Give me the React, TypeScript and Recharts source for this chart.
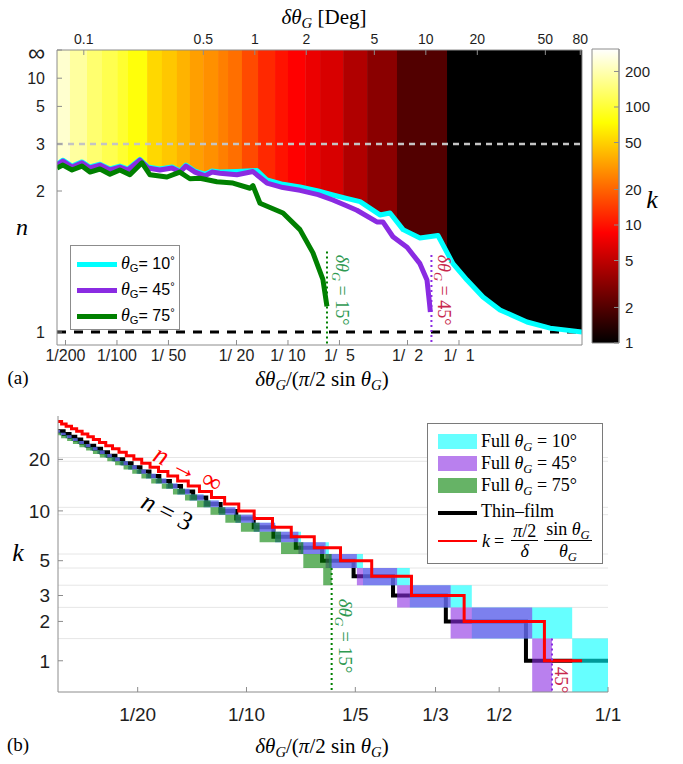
import React from 'react';
import { ComposedChart, Line, Area, XAxis, YAxis, ReferenceArea, ReferenceLine } from 'recharts';

// ---------------- panel (a) ----------------
// x: dtheta_G / (pi/2 sin theta_G)  (log),  y: 1/n  (linear, reversed)
const U_MIN_A = 0.00446;
const U_MAX_A = 5.24;
const V_MAX_A = 1.046;
const K_MAX = 310;

// colour bands of k (start of each band along x)
const bandStartU = [0.00446, 0.00531, 0.00668, 0.00817, 0.0101, 0.0116, 0.015, 0.0183, 0.0224, 0.0267, 0.0319, 0.039, 0.0446, 0.0538, 0.0668, 0.084, 0.1, 0.126, 0.154, 0.21, 0.29, 0.434, 0.851];
const bandK = [237, 181, 138, 115, 97, 78, 53, 46, 39, 33, 29, 25, 22, 16, 12, 10, 8.6, 7.3, 6.2, 4.4, 3.2, 2, 1];

// boundary curves n(x)
const cyanU = [0.00446, 0.00483, 0.00546, 0.00624, 0.00695, 0.00795, 0.0091, 0.0104, 0.0116, 0.0136, 0.0152, 0.0178, 0.021, 0.0234, 0.0253, 0.0286, 0.0327, 0.0359, 0.04, 0.0503, 0.0659, 0.0754, 0.0935, 0.1175, 0.15, 0.183, 0.22, 0.264, 0.345, 0.395, 0.471, 0.591, 0.7535, 0.922, 1.114, 1.381, 1.737, 2.5, 3.41, 5.24];
const cyanN = [2.47, 2.56, 2.43, 2.52, 2.41, 2.47, 2.37, 2.43, 2.37, 2.58, 2.41, 2.37, 2.41, 2.33, 2.45, 2.33, 2.27, 2.33, 2.31, 2.32, 2.34, 2.17, 2.1, 2.06, 2.0, 1.945, 1.9, 1.86, 1.71, 1.73, 1.57, 1.5, 1.52, 1.32, 1.226, 1.142, 1.085, 1.037, 1.014, 1.0];
const purpleU = [0.00446, 0.00483, 0.00546, 0.00624, 0.00695, 0.00795, 0.0091, 0.0104, 0.0116, 0.0136, 0.0152, 0.0178, 0.021, 0.0234, 0.0253, 0.0286, 0.0327, 0.0359, 0.04, 0.0503, 0.0624, 0.0754, 0.0935, 0.1175, 0.15, 0.183, 0.22, 0.253, 0.331, 0.359, 0.411, 0.497, 0.591, 0.65, 0.672, 0.68];
const purpleN = [2.45, 2.54, 2.41, 2.5, 2.39, 2.45, 2.35, 2.41, 2.35, 2.56, 2.39, 2.35, 2.39, 2.31, 2.43, 2.31, 2.24, 2.31, 2.29, 2.26, 2.32, 2.12, 2.05, 2.01, 1.95, 1.88, 1.81, 1.76, 1.64, 1.64, 1.51, 1.43, 1.32, 1.226, 1.115, 1.076];
const greenU = [0.00446, 0.00483, 0.00546, 0.00624, 0.00695, 0.00795, 0.0091, 0.0104, 0.0119, 0.014, 0.0156, 0.0196, 0.0233, 0.0267, 0.0306, 0.0384, 0.0477, 0.06, 0.0624, 0.0686, 0.0935, 0.1175, 0.14, 0.16, 0.169];
const greenN = [2.39, 2.45, 2.35, 2.43, 2.31, 2.37, 2.27, 2.35, 2.26, 2.5, 2.26, 2.22, 2.31, 2.19, 2.2, 2.14, 2.12, 2.04, 2.08, 1.84, 1.73, 1.57, 1.39, 1.23, 1.1];

const limit15U = 0.1691;
const limit15N = 1.4;
const limit45U = 0.69;
const limit45N = 1.375;

const topDeg = [0.1, 0.5, 1, 2, 5, 10, 20, 50, 80];
const DEG_PER_U = 90 * Math.sin((10 * Math.PI) / 180); // top axis drawn for theta_G = 10 deg
const bottomTicksA = [1 / 200, 1 / 100, 1 / 50, 1 / 20, 1 / 10, 1 / 5, 1 / 2, 1];
const bottomLabelsA = ['1/200', '1/100', '1/\u00a050', '1/\u00a020', '1/\u00a010', '1/\u00a0\u00a05', '1/\u00a0\u00a02', '1/\u00a0\u00a01'];
const nTicks = [Infinity, 10, 5, 3, 2, 1];
const nLabels = ['\u221e', '10', '5', '3', '2', '1'];
const cbTicks = [1, 2, 5, 10, 20, 50, 100, 200];

// ---------------- panel (b) ----------------
const U_MIN_B = 0.0301;
const U_MAX_B = 1;
const S_MIN = 1;
const S_MAX = 36;
const redU = [0.0301, 0.0308, 0.0317, 0.0328, 0.0339, 0.0351, 0.0364, 0.0377, 0.0392, 0.0408, 0.0426, 0.0444, 0.0465, 0.0488, 0.0513, 0.0541, 0.0571, 0.0606, 0.0645, 0.069, 0.0741, 0.08, 0.087, 0.0952, 0.105, 0.118, 0.133, 0.154, 0.182, 0.222, 0.286, 0.4, 0.667, 0.848];
const redK = [33, 32, 31, 30, 29, 28, 27, 26, 25, 24, 23, 22, 21, 20, 19, 18, 17, 16, 15, 14, 13, 12, 11, 10, 9, 8, 7, 6, 5, 4, 3, 2, 1, 1];
const blackU = [0.0301, 0.0312, 0.0324, 0.0336, 0.0349, 0.0363, 0.0379, 0.0396, 0.0414, 0.0434, 0.0456, 0.0481, 0.0509, 0.0539, 0.0574, 0.0614, 0.0659, 0.0712, 0.0774, 0.0848, 0.0937, 0.1047, 0.1187, 0.1369, 0.1618, 0.1978, 0.2543, 0.356, 0.593, 1.0];
const blackK = [29, 28, 27, 26, 25, 24, 23, 22, 21, 20, 19, 18, 17, 16, 15, 14, 13, 12, 11, 10, 9, 8, 7, 6, 5, 4, 3, 2, 1, 1];
const cyanCellU = [0.0301, 0.0305, 0.0316, 0.0328, 0.0341, 0.0355, 0.037, 0.0387, 0.0405, 0.0424, 0.0446, 0.047, 0.0497, 0.0527, 0.0561, 0.06, 0.0644, 0.0696, 0.0761, 0.0838, 0.0932, 0.1047, 0.12, 0.1415, 0.169, 0.21, 0.283, 0.42, 0.796, 1.0];
const cyanCellK = [29, 28, 27, 26, 25, 24, 23, 22, 21, 20, 19, 18, 17, 16, 15, 14, 13, 12, 11, 10, 9, 8, 7, 6, 5, 4, 3, 2, 1, 1];
const purpleCellU = [0.0301, 0.0305, 0.0316, 0.0328, 0.0341, 0.0355, 0.037, 0.0387, 0.0405, 0.0424, 0.0446, 0.047, 0.0497, 0.0527, 0.0561, 0.06, 0.0644, 0.0696, 0.0761, 0.0838, 0.0932, 0.1047, 0.12, 0.1392, 0.1655, 0.202, 0.261, 0.367, 0.617, 0.7];
const purpleCellK = [29, 28, 27, 26, 25, 24, 23, 22, 21, 20, 19, 18, 17, 16, 15, 14, 13, 12, 11, 10, 9, 8, 7, 6, 5, 4, 3, 2, 1, 1];
const greenCellU = [0.0301, 0.0307, 0.0319, 0.0331, 0.0345, 0.036, 0.0376, 0.0393, 0.0412, 0.0433, 0.0457, 0.0483, 0.0512, 0.0545, 0.0583, 0.0626, 0.0676, 0.073, 0.0795, 0.0874, 0.0965, 0.1087, 0.1246, 0.1436, 0.163, 0.172];
const greenCellKLo = [28, 27, 26, 25, 24, 23, 22, 21, 20, 19, 18, 17, 16, 15, 14, 13, 12, 11, 10, 9, 8, 7, 6, 5, 4, 4];
const greenCellKHi = [28, 27, 26, 25, 24, 23, 22, 21, 20, 19, 18, 17, 16, 15, 14, 13, 12, 11, 10, 9, 8, 7, 6, 5, 5, 5];
const limitB15U = 0.172;
const limitB45U = 0.7;
const bottomTicksB = [1 / 20, 1 / 10, 1 / 5, 1 / 3, 1 / 2, 1];
const bottomLabelsB = ['1/20', '1/10', '1/5', '1/3', '1/2', '1/1'];
const kTicks = [1, 2, 3, 5, 10, 20];
const kGrid = [2, 3, 4, 5, 6, 10, 11, 20, 21];

// ---------------- helpers ----------------
const SANS = '"Liberation Sans", Arial, Helvetica, sans-serif';
const SERIF = '"Liberation Serif", "Times New Roman", serif';
const AXIS = '#8c8c8c';
const TXT = '#1e1e1e';
const CYAN = '#00ffff';
const PURPLE = '#8a2be2';
const GREEN = '#008000';

const hot = (k: number) => {
  const t = Math.log10(k) / Math.log10(K_MAX);
  const cl = (x: number) => Math.max(0, Math.min(1, x));
  const r = cl(t / 0.375);
  const g = cl((t - 0.375) / 0.375);
  const b = cl((t - 0.75) / 0.25);
  return `rgb(${Math.round(r * 255)},${Math.round(g * 255)},${Math.round(b * 255)})`;
};

const labelOf = (vals: number[], labels: string[]) => (v: number) => {
  const i = vals.findIndex((x) => Math.abs(x - v) <= 1e-6 * Math.max(1e-3, Math.abs(x)));
  return i >= 0 ? labels[i] : '';
};

const curveRows = (u: number[], n: number[]) => u.map((x, i) => ({ u: x, v: 1 / n[i] }));
const stepRows = (u: number[], k: number[]) => u.map((x, i) => ({ u: x, s: k[i] + 0.5 }));
const cellRows = (u: number[], lo: number[], hi: number[]) => u.map((x, i) => ({ u: x, lo: lo[i], hi: hi[i] }));

const Sub = ({ children }: { children: React.ReactNode }) => (
  <span style={{ fontSize: '0.7em', position: 'relative', top: '0.3em' }}>{children}</span>
);
const Sup = ({ children }: { children: React.ReactNode }) => (
  <span style={{ fontSize: '0.7em', position: 'relative', top: '-0.45em' }}>{children}</span>
);
const DTheta = () => (
  <>
    <i>δθ</i>
    <Sub>
      <i>G</i>
    </Sub>
  </>
);
const XLabel = () => (
  <>
    <DTheta />/(<i>π</i>/2 sin <i>θ</i>
    <Sub>
      <i>G</i>
    </Sub>
    )
  </>
);

const abs = (left: number, top: number, extra: React.CSSProperties = {}): React.CSSProperties => ({
  position: 'absolute',
  left,
  top,
  whiteSpace: 'nowrap',
  ...extra,
});
const rotated = (cx: number, cy: number, deg: number, extra: React.CSSProperties = {}): React.CSSProperties => ({
  position: 'absolute',
  left: cx,
  top: cy,
  whiteSpace: 'nowrap',
  transform: `translate(-50%, -50%) rotate(${deg}deg)`,
  ...extra,
});

const tickA = { fontSize: 16, fill: TXT, fontFamily: SANS };
const nLabel = labelOf(nTicks.map((n) => 1 / n), nLabels);

const NTick = (props: any) => {
  const { x, y, payload } = props;
  const lab = nLabel(payload.value);
  const inf = lab === '\u221e';
  return (
    <text x={x} y={y} dy={inf ? '0.45em' : '0.35em'} textAnchor="end" fontSize={inf ? 24 : 16} fill={TXT} fontFamily={SANS}>
      {lab}
    </text>
  );
};

function PanelA() {
  const cyan = curveRows(cyanU, cyanN);
  const purple = curveRows(purpleU, purpleN);
  const green = curveRows(greenU, greenN);
  return (
    <ComposedChart width={683} height={400} margin={{ top: 22, right: 100, bottom: 27, left: 0 }}>
      <XAxis
        dataKey="u"
        type="number"
        scale="log"
        domain={[U_MIN_A, U_MAX_A]}
        allowDataOverflow
        ticks={bottomTicksA}
        interval={0}
        tickFormatter={labelOf(bottomTicksA, bottomLabelsA)}
        height={28}
        tickSize={-5}
        tickMargin={10}
        stroke={AXIS}
        tick={tickA}
      />
      <XAxis
        xAxisId="top"
        orientation="top"
        dataKey="u"
        type="number"
        scale="log"
        domain={[U_MIN_A, U_MAX_A]}
        allowDataOverflow
        ticks={topDeg.map((d) => d / DEG_PER_U)}
        interval={0}
        tickFormatter={labelOf(topDeg.map((d) => d / DEG_PER_U), topDeg.map(String))}
        height={28}
        tickSize={-5}
        tickMargin={11}
        stroke={AXIS}
        tick={{ fontSize: 14, fill: TXT, fontFamily: SANS }}
      />
      <YAxis
        type="number"
        domain={[0, V_MAX_A]}
        reversed
        allowDataOverflow
        ticks={nTicks.map((n) => 1 / n)}
        interval={0}
        width={57}
        tickSize={-5}
        tickMargin={17}
        stroke={AXIS}
        tick={<NTick />}
      />
      <YAxis
        yAxisId="right"
        orientation="right"
        type="number"
        domain={[0, V_MAX_A]}
        reversed
        allowDataOverflow
        ticks={[]}
        tick={false}
        width={1}
        stroke={AXIS}
      />
      {bandStartU.map((u0, i) => {
        const u1 = i + 1 < bandStartU.length ? bandStartU[i + 1] * 1.004 : U_MAX_A;
        const c = hot(bandK[i]);
        return (
          <Area
            key={'band' + i}
            data={[
              { u: u0, v: 0 },
              { u: u1, v: 0 },
            ]}
            dataKey="v"
            type="linear"
            baseValue={V_MAX_A}
            fill={c}
            fillOpacity={1}
            stroke="none"
            isAnimationActive={false}
            activeDot={false}
          />
        );
      })}
      <Area
        data={cyan}
        dataKey="v"
        type="linear"
        baseValue={V_MAX_A}
        fill="#ffffff"
        fillOpacity={1}
        stroke="none"
        isAnimationActive={false}
        activeDot={false}
      />
      <Line
        xAxisId="top"
        yAxisId="right"
        data={[
          { u: U_MIN_A, v: 1 / 3 },
          { u: U_MAX_A, v: 1 / 3 },
        ]}
        dataKey="v"
        stroke="#c4c4c4"
        strokeWidth={2.5}
        strokeDasharray="6 5"
        dot={false}
        isAnimationActive={false}
      />
      <Line
        data={[
          { u: U_MIN_A, v: 1 },
          { u: U_MAX_A, v: 1 },
        ]}
        dataKey="v"
        stroke="#000"
        strokeWidth={3}
        strokeDasharray="9 8"
        dot={false}
        isAnimationActive={false}
      />
      <Line
        data={[
          { u: limit15U, v: 1 / limit15N },
          { u: limit15U, v: V_MAX_A },
        ]}
        dataKey="v"
        stroke={GREEN}
        strokeWidth={2}
        strokeDasharray="2 3"
        dot={false}
        isAnimationActive={false}
      />
      <Line
        data={[
          { u: limit45U, v: 1 / limit45N },
          { u: limit45U, v: V_MAX_A },
        ]}
        dataKey="v"
        stroke={PURPLE}
        strokeWidth={2}
        strokeDasharray="2 3"
        dot={false}
        isAnimationActive={false}
      />
      <Line data={cyan} dataKey="v" type="linear" stroke={CYAN} strokeWidth={5} strokeLinejoin="round" dot={false} isAnimationActive={false} />
      <Line data={purple} dataKey="v" type="linear" stroke={PURPLE} strokeWidth={5} strokeLinejoin="round" dot={false} isAnimationActive={false} />
      <Line data={green} dataKey="v" type="linear" stroke={GREEN} strokeWidth={5} strokeLinejoin="round" dot={false} isAnimationActive={false} />
    </ComposedChart>
  );
}

function ColorBar() {
  return (
    <ComposedChart width={683} height={400} margin={{ top: 49, right: 24, bottom: 57, left: 592 }}>
      <defs>
        <linearGradient id="hotGrad" x1="0" y1="1" x2="0" y2="0">
          <stop offset="0" stopColor="#000000" />
          <stop offset="0.375" stopColor="#ff0000" />
          <stop offset="0.75" stopColor="#ffff00" />
          <stop offset="1" stopColor="#ffffff" />
        </linearGradient>
      </defs>
      <XAxis dataKey="x" type="number" domain={[0, 1]} allowDataOverflow hide />
      <YAxis
        orientation="right"
        type="number"
        scale="log"
        domain={[1, K_MAX]}
        allowDataOverflow
        ticks={cbTicks}
        interval={0}
        width={40}
        tickSize={-5}
        tickMargin={11}
        stroke={AXIS}
        tick={{ fontSize: 15, fill: TXT, fontFamily: SANS }}
      />
      <Area
        data={[
          { x: 0, k: K_MAX },
          { x: 1, k: K_MAX },
        ]}
        dataKey="k"
        type="linear"
        baseValue={1}
        fill="url(#hotGrad)"
        fillOpacity={1}
        stroke="none"
        isAnimationActive={false}
        activeDot={false}
      />
      <ReferenceArea x1={0} x2={1} y1={1} y2={K_MAX} fill="none" stroke={AXIS} strokeWidth={1} ifOverflow="visible" />
    </ComposedChart>
  );
}

function PanelB() {
  const red = stepRows(redU, redK);
  const black = stepRows(blackU, blackK);
  const cyanCells = cellRows(cyanCellU, cyanCellK, cyanCellK);
  const purpleCells = cellRows(purpleCellU, purpleCellK, purpleCellK);
  const greenCells = cellRows(greenCellU, greenCellKLo, greenCellKHi);
  const range = (d: { lo: number; hi: number }) => [d.lo, d.hi + 1];
  const tickB = { fontSize: 19, fill: TXT, fontFamily: SANS };
  return (
    <ComposedChart width={683} height={364} margin={{ top: 16, right: 75, bottom: 42, left: 0 }}>
      <XAxis
        dataKey="u"
        type="number"
        scale="log"
        domain={[U_MIN_B, U_MAX_B]}
        allowDataOverflow
        ticks={bottomTicksB}
        interval={0}
        tickFormatter={labelOf(bottomTicksB, bottomLabelsB)}
        height={30}
        tickSize={-5}
        tickMargin={21}
        stroke={AXIS}
        tick={tickB}
      />
      <YAxis
        type="number"
        scale="log"
        domain={[S_MIN, S_MAX]}
        allowDataOverflow
        ticks={kTicks.map((k) => k + 0.5)}
        interval={0}
        tickFormatter={labelOf(kTicks.map((k) => k + 0.5), kTicks.map(String))}
        width={58}
        tickSize={-5}
        tickMargin={13}
        stroke={AXIS}
        tick={tickB}
      />
      {kGrid.map((s) => (
        <ReferenceLine key={'g' + s} y={s} stroke="#e6e6e6" strokeWidth={1} zIndex={-100} />
      ))}
      <Line data={black} dataKey="s" type="stepAfter" stroke="#000" strokeWidth={4} dot={false} isAnimationActive={false} zIndex={50} />
      <Area data={cyanCells} dataKey={range} type="stepAfter" fill={CYAN} fillOpacity={0.6} stroke="none" isAnimationActive={false} activeDot={false} />
      <Area data={purpleCells} dataKey={range} type="stepAfter" fill={PURPLE} fillOpacity={0.6} stroke="none" isAnimationActive={false} activeDot={false} />
      <Area data={greenCells} dataKey={range} type="stepAfter" fill={GREEN} fillOpacity={0.6} stroke="none" isAnimationActive={false} activeDot={false} />
      <Line data={red} dataKey="s" type="stepAfter" stroke="#ff0000" strokeWidth={3} dot={false} isAnimationActive={false} />
      <Line
        data={[
          { u: limitB15U, s: 5 },
          { u: limitB15U, s: S_MIN },
        ]}
        dataKey="s"
        stroke={GREEN}
        strokeWidth={2}
        strokeDasharray="2 3"
        dot={false}
        isAnimationActive={false}
      />
      <Line
        data={[
          { u: limitB45U, s: 2 },
          { u: limitB45U, s: S_MIN },
        ]}
        dataKey="s"
        stroke={PURPLE}
        strokeWidth={2}
        strokeDasharray="2 3"
        dot={false}
        isAnimationActive={false}
      />
    </ComposedChart>
  );
}

export default function App() {
  const legendLine = (color: string, w: number) => (
    <span style={{ display: 'inline-block', width: 40, height: w, background: color, verticalAlign: 'middle', marginRight: 4 }} />
  );
  const frac = (num: React.ReactNode, den: React.ReactNode) => (
    <span style={{ display: 'inline-flex', flexDirection: 'column', alignItems: 'center', verticalAlign: 'middle', margin: '0 3px', lineHeight: '18px' }}>
      <span style={{ padding: '0 2px' }}>{num}</span>
      <span style={{ borderTop: '1px solid #000', padding: '1px 2px 0', alignSelf: 'stretch', textAlign: 'center' }}>{den}</span>
    </span>
  );
  return (
    <div style={{ position: 'absolute', left: 0, top: 0, width: 683, height: 764, background: '#fff', overflow: 'hidden', fontFamily: SERIF, color: '#000' }}>
      <div style={abs(0, 0)}>
        <PanelA />
      </div>
      <div style={abs(0, 0)}>
        <ColorBar />
      </div>
      <div style={abs(0, 400)}>
        <PanelB />
      </div>

      {/* panel (a) texts */}
      <div style={rotated(324, 17, 0, { fontSize: 21 })}>
        <DTheta /> [Deg]
      </div>
      <div style={rotated(22, 227, 0, { fontSize: 24, fontStyle: 'italic' })}>n</div>
      <div style={rotated(652, 200, 0, { fontSize: 26, fontStyle: 'italic' })}>k</div>
      <div style={rotated(18, 378, 0, { fontSize: 19 })}>(a)</div>
      <div style={rotated(322, 379, 0, { fontSize: 21 })}>
        <XLabel />
      </div>
      <div style={rotated(341, 290, 90, { fontSize: 18, color: '#2f9a52' })}>
        <DTheta /> = 15°
      </div>
      <div style={rotated(443, 290, 90, { fontSize: 18, color: '#c8284e' })}>
        <DTheta /> = 45°
      </div>

      <div style={abs(70, 245, { width: 110, height: 85, border: '1px solid #8c8c8c', background: '#fff', boxSizing: 'border-box', fontFamily: SANS, fontSize: 16 })}>
        {[
          [CYAN, '10'],
          [PURPLE, '45'],
          [GREEN, '75'],
        ].map(([c, a], i) => (
          <div key={a} style={abs(6, 4 + i * 26, { height: 26, lineHeight: '26px' })}>
            {legendLine(c, 5)}
            <i style={{ fontFamily: SERIF, fontSize: 18 }}>θ</i>
            <Sub>G</Sub>= {a}
            <Sup>°</Sup>
          </div>
        ))}
      </div>

      {/* panel (b) texts */}
      <div style={rotated(18, 553, 0, { fontSize: 26, fontStyle: 'italic' })}>k</div>
      <div style={rotated(18, 745, 0, { fontSize: 19 })}>(b)</div>
      <div style={rotated(322, 746, 0, { fontSize: 21 })}>
        <XLabel />
      </div>
      <div style={rotated(188, 469, 27, { fontSize: 27, color: '#ff0000' })}>
        <i>n</i> → ∞
      </div>
      <div style={rotated(167, 512, 27, { fontSize: 26 })}>
        <i>n</i> = 3
      </div>
      <div style={rotated(345, 636, 90, { fontSize: 19, color: '#2f9a52' })}>
        <DTheta /> = 15°
      </div>
      <div style={rotated(561, 680, 90, { fontSize: 19, color: '#c8284e' })}>45°</div>

      <div style={abs(427, 423, { width: 176, height: 141, border: '1px solid #7a7a7a', background: '#fff', boxSizing: 'border-box', fontSize: 18 })}>
        {[
          [CYAN, '10', 8],
          [PURPLE, '45', 30],
          [GREEN, '75', 52],
        ].map(([c, a, t]) => (
          <div key={String(a)} style={abs(10, t as number, { height: 18, lineHeight: '18px' })}>
            <span style={{ display: 'inline-block', width: 39, height: 15, background: c as string, opacity: 0.6, verticalAlign: 'top', marginTop: 2, marginRight: 4 }} />
            Full <i>θ</i>
            <Sub>
              <i>G</i>
            </Sub>{' '}
            = {a}°
          </div>
        ))}
        <div style={abs(10, 78, { height: 18, lineHeight: '18px' })}>
          <span style={{ display: 'inline-block', width: 39, height: 4, background: '#000', verticalAlign: 'middle', marginRight: 4 }} />
          Thin–film
        </div>
        <div style={abs(10, 97, { height: 40, display: 'flex', alignItems: 'center', fontSize: 18 })}>
          <span style={{ display: 'inline-block', width: 39, height: 2.5, background: '#ff0000', marginRight: 5 }} />
          <i>k</i>
          <span style={{ margin: '0 4px' }}>=</span>
          {frac(<>
            <i>π</i>/2
          </>, <i>δ</i>)}
          {frac(<>
            sin <i>θ</i>
            <Sub>
              <i>G</i>
            </Sub>
          </>, <>
            <i>θ</i>
            <Sub>
              <i>G</i>
            </Sub>
          </>)}
        </div>
      </div>
    </div>
  );
}
